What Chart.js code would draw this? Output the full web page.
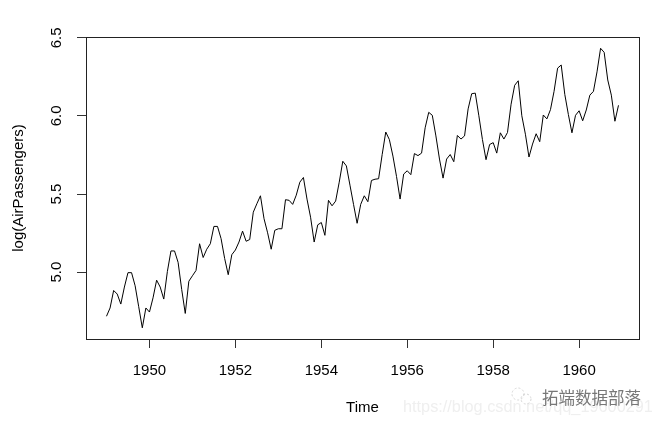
<!DOCTYPE html>
<html>
<head>
<meta charset="utf-8">
<script src="https://cdn.jsdelivr.net/npm/chart.js@4/dist/chart.umd.min.js"></script>
<style>
  html, body { margin: 0; padding: 0; background: #fff; }
  #wrap { width: 657px; height: 426px; }
</style>
</head>
<body>
<div id="wrap"><canvas id="chart" width="657" height="426"></canvas></div>
<script>
// log(AirPassengers), monthly, Jan 1949 .. Dec 1960
const startYear = 1949;
const logPassengers = [
  4.718, 4.771, 4.883, 4.860, 4.796, 4.905, 4.997, 4.997, 4.913, 4.779, 4.644, 4.771,
  4.745, 4.836, 4.949, 4.905, 4.828, 5.004, 5.136, 5.136, 5.063, 4.890, 4.736, 4.942,
  4.977, 5.011, 5.182, 5.094, 5.147, 5.182, 5.293, 5.293, 5.215, 5.088, 4.984, 5.112,
  5.142, 5.193, 5.263, 5.198, 5.209, 5.384, 5.438, 5.489, 5.342, 5.252, 5.147, 5.268,
  5.278, 5.278, 5.464, 5.460, 5.434, 5.493, 5.576, 5.606, 5.468, 5.352, 5.193, 5.303,
  5.318, 5.236, 5.460, 5.425, 5.455, 5.576, 5.710, 5.680, 5.557, 5.434, 5.313, 5.434,
  5.489, 5.451, 5.587, 5.595, 5.598, 5.753, 5.897, 5.849, 5.743, 5.613, 5.468, 5.628,
  5.649, 5.624, 5.759, 5.746, 5.762, 5.924, 6.023, 6.004, 5.872, 5.724, 5.602, 5.724,
  5.753, 5.707, 5.875, 5.852, 5.872, 6.045, 6.142, 6.146, 6.001, 5.849, 5.720, 5.817,
  5.829, 5.762, 5.892, 5.852, 5.894, 6.075, 6.196, 6.225, 6.001, 5.883, 5.737, 5.820,
  5.886, 5.835, 6.006, 5.981, 6.040, 6.157, 6.306, 6.326, 6.138, 6.009, 5.892, 6.004,
  6.033, 5.969, 6.038, 6.133, 6.157, 6.282, 6.433, 6.407, 6.230, 6.133, 5.966, 6.068
];
const xTicks = [1950, 1952, 1954, 1956, 1958, 1960];
const yTicks = [5.0, 5.5, 6.0, 6.5];

const points = logPassengers.map((v, i) => ({ x: startYear + i / 12, y: v }));

const FONT = "'Liberation Sans', Arial, Helvetica, sans-serif";

// plot frame + watermark
const boxPlugin = {
  id: 'box',
  afterDraw(chart) {
    const { ctx, chartArea: a } = chart;
    ctx.save();
    ctx.strokeStyle = '#222';
    ctx.lineWidth = 1;
    ctx.strokeRect(Math.round(a.left) + 0.5, Math.round(a.top) + 0.5,
                   Math.round(a.right - a.left), Math.round(a.bottom - a.top));

    ctx.fillStyle = '#efefef';
    ctx.font = "16.3px " + FONT;
    ctx.textBaseline = 'middle';
    ctx.textAlign = 'left';
    ctx.fillText('https://blog.csdn.net/qq_19600291', 403, 408);

    // faint wechat-like mark
    ctx.strokeStyle = '#d4d4d4';
    ctx.setLineDash([2, 2]);
    ctx.beginPath(); ctx.arc(518, 394, 6, 0, Math.PI * 2); ctx.stroke();
    ctx.beginPath(); ctx.arc(526, 399, 5, 0, Math.PI * 2); ctx.stroke();
    ctx.setLineDash([]);

    ctx.fillStyle = '#777';
    ctx.font = "16.5px 'Noto Sans CJK SC', sans-serif";
    ctx.fillText('拓端数据部落', 542, 398);
    ctx.restore();
  }
};

new Chart(document.getElementById('chart'), {
  type: 'line',
  data: {
    datasets: [{
      data: points,
      borderColor: '#000',
      borderWidth: 1,
      pointRadius: 0,
      tension: 0,
      fill: false
    }]
  },
  options: {
    responsive: false,
    animation: false,
    events: [],
    layout: { padding: { left: 0, top: 37, right: 18, bottom: 0 } },
    plugins: { legend: { display: false }, tooltip: { enabled: false } },
    scales: {
      x: {
        type: 'linear',
        min: 1948.523,
        max: 1961.394,
        afterBuildTicks: s => { s.ticks = xTicks.map(v => ({ value: v })); },
        afterFit: s => { s.height = 87; },
        border: { display: false },
        grid: { drawOnChartArea: false, drawTicks: true, tickLength: 9, color: '#333' },
        ticks: { color: '#000', font: { family: FONT, size: 15 }, padding: 14, maxRotation: 0,
                 callback: v => String(v) },
        title: { display: true, text: 'Time', color: '#000', font: { family: FONT, size: 15 },
                 padding: { top: 0, bottom: 9 } }
      },
      y: {
        min: 4.5725,
        max: 6.5051,
        afterBuildTicks: s => { s.ticks = yTicks.map(v => ({ value: v })); },
        afterFit: s => { s.width = 86; },
        border: { display: false },
        grid: { drawOnChartArea: false, drawTicks: true, tickLength: 9, color: '#333' },
        ticks: { color: '#000', font: { family: FONT, size: 15 }, padding: 10,
                 minRotation: 90, maxRotation: 90, crossAlign: 'center',
                 callback: v => v.toFixed(1) },
        title: { display: true, text: 'log(AirPassengers)', color: '#000', font: { family: FONT, size: 15 },
                 padding: { top: 10, bottom: 0 } }
      }
    }
  },
  plugins: [boxPlugin]
});
</script>
</body>
</html>
